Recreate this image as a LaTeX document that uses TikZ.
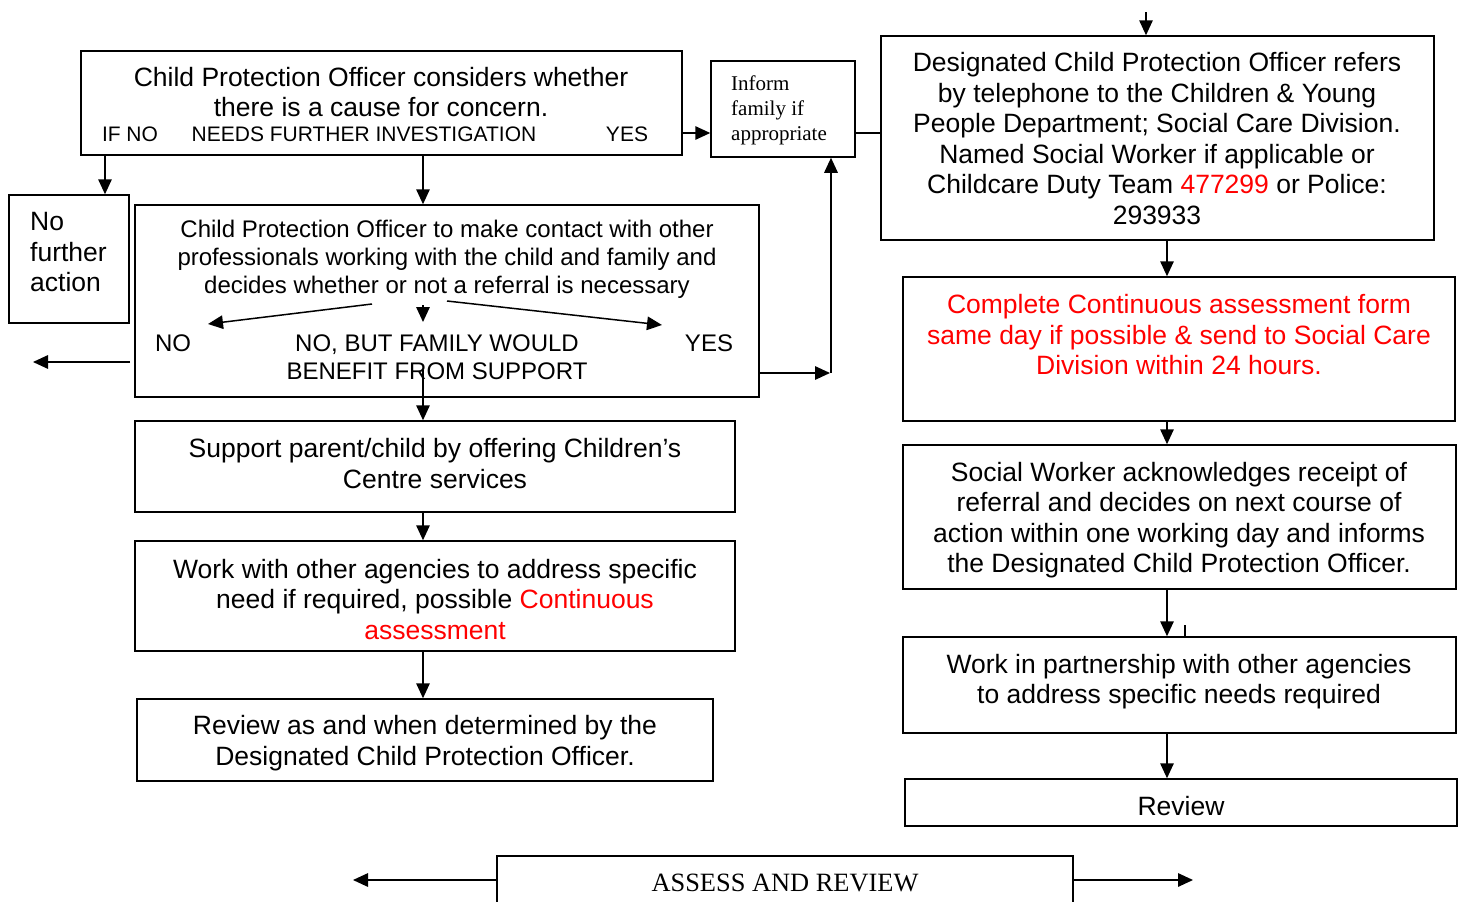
\documentclass[tikz,border=0pt]{standalone}
\usepackage{fontspec}
\setmainfont{Liberation Sans}
\newfontfamily\seriffont{Liberation Serif}
\usetikzlibrary{arrows.meta}
\tikzset{
  box/.style={draw, line width=1.5pt, rectangle, inner sep=0pt},
  arr/.style={line width=1.5pt, -{Triangle[length=15pt,width=13.5pt]}},
  ln/.style={line width=1.5pt},
  big/.style={inner sep=0pt, align=center, font=\fontsize{26.5}{30.5}\selectfont},
  mid/.style={inner sep=0pt, align=center, font=\fontsize{24}{28}\selectfont},
  sml/.style={inner sep=0pt, font=\fontsize{21}{25}\selectfont},
}
\newcommand{\mkbox}[5]{\node[box, minimum width=#4-#2, minimum height=#5-#3] (#1) at ({(#2+#4)/2},{(#3+#5)/2}) {};}
\begin{document}
\begin{tikzpicture}[x=1pt,y=-1pt]
\useasboundingbox (0,0) rectangle (1465,902);
% boxes
\mkbox{A}{81}{51}{682}{155}
\mkbox{Inf}{711}{61}{855}{157}
\mkbox{B}{881}{36}{1434}{240}
\mkbox{C}{903}{277}{1455}{421}
\mkbox{D}{903}{445}{1456}{589}
\mkbox{E}{903}{637}{1456}{733}
\mkbox{F}{905}{779}{1457}{826}
\mkbox{NFA}{9}{195}{129}{323}
\mkbox{G}{135}{205}{759}{397}
\mkbox{H}{135}{421}{735}{512}
\mkbox{I}{135}{541}{735}{651}
\mkbox{J}{137}{699}{713}{781}
\mkbox{K}{497}{856}{1073}{904}
% texts
\node[big] (At) at (381,92) {Child Protection Officer considers whether\\there is a cause for concern.};
\node[sml] (Ano) at (130,134.5) {IF NO};
\node[sml] (Anf) at (364,134.5) {NEEDS FURTHER INVESTIGATION};
\node[sml] (Ayes) at (627,134.5) {YES};
\node[inner sep=0pt, anchor=west, align=left, font=\seriffont\fontsize{21}{25}\selectfont] (Inft) at (731,110) {Inform\\family if\\appropriate};
\node[big] (Bt) at (1157,138.5) {Designated Child Protection Officer refers\\by telephone to the Children \& Young\\People Department; Social Care Division.\\Named Social Worker if applicable or\\Childcare Duty Team \textcolor{red}{477299} or Police:\\293933};
\node[big, text=red] (Ct) at (1179,335) {Complete Continuous assessment form\\same day if possible \& send to Social Care\\Division within 24 hours.};
\node[big] (Dt) at (1179,520) {Social Worker acknowledges receipt of\\referral and decides on next course of\\action within one working day and informs\\the Designated Child Protection Officer.};
\node[big] (Et) at (1179,681.5) {Work in partnership with other agencies\\to address specific needs required};
\node[big] (Ft) at (1181,806.5) {Review};
\node[big, anchor=west, align=left] (NFAt) at (30,252.5) {No\\further\\action};
\node[mid] (Gt) at (447,259.5) {Child Protection Officer to make contact with other\\professionals working with the child and family and\\decides whether or not a referral is necessary};
\node[mid] (Gno) at (173,343.5) {NO};
\node[mid] (Gnb) at (437,357.5) {NO, BUT FAMILY WOULD\\BENEFIT FROM SUPPORT};
\node[mid] (Gyes) at (709,343.5) {YES};
\node[big] (Ht) at (435,463.5) {Support parent/child by offering Children’s\\Centre services};
\node[big] (It) at (435,599.5) {Work with other agencies to address specific\\need if required, possible \textcolor{red}{Continuous}\\\textcolor{red}{assessment}};
\node[big] (Jt) at (425,743) {Review as and when determined by the\\Designated Child Protection Officer.};
\node[inner sep=0pt, font=\seriffont\fontsize{26.4}{30}\selectfont] (Kt) at (785,882.5) {ASSESS AND REVIEW};
% helper coordinates
\coordinate (yAB) at (0,133);
\coordinate (top) at (1146,12);
\coordinate (xR) at (1167,0);
\coordinate (xNFA) at (105,0);
\coordinate (xL) at (423,0);
\coordinate (Gs) at (423,370);
\coordinate (gn1) at (372,304);
\coordinate (gn2) at (208,324);
\coordinate (gd1) at (423,305);
\coordinate (gd2) at (423,322);
\coordinate (gy1) at (447,301);
\coordinate (gy2) at (662,325);
\coordinate (Gl) at (130,362);
\coordinate (Gl2) at (33,362);
\coordinate (yY) at (0,373);
\coordinate (xY) at (831,0);
\coordinate (Kl) at (353,880);
\coordinate (Kr) at (1193,880);
\coordinate (tick) at (1185,625);
% connectors
\draw[arr] (A.east |- yAB) -- (Inf.west |- yAB);
\draw[ln] (Inf.east |- yAB) -- (B.west |- yAB);
\draw[arr] (top) -- (top |- B.north);
\draw[arr] (B.south -| xR) -- (C.north -| xR);
\draw[arr] (C.south -| xR) -- (D.north -| xR);
\draw[arr] (D.south -| xR) -- (E.north -| xR);
\draw[ln] (tick) -- (tick |- E.north);
\draw[arr] (E.south -| xR) -- (F.north -| xR);
\draw[arr] (A.south -| xNFA) -- (NFA.north -| xNFA);
\draw[arr] (A.south -| xL) -- (G.north -| xL);
\draw[arr] (gn1) -- (gn2);
\draw[arr] (gd1) -- (gd2);
\draw[arr] (gy1) -- (gy2);
\draw[arr] (Gl) -- (Gl2);
\draw[arr] (G.east |- yY) -- ([xshift=-1pt]xY |- yY);
\draw[arr] (xY |- yY) -- (xY |- Inf.south);
\draw[arr] (Gs) -- (H.north -| xL);
\draw[arr] (H.south -| xL) -- (I.north -| xL);
\draw[arr] (I.south -| xL) -- (J.north -| xL);
\draw[arr] (K.west |- Kl) -- (Kl);
\draw[arr] (K.east |- Kr) -- (Kr);
\end{tikzpicture}
\end{document}
